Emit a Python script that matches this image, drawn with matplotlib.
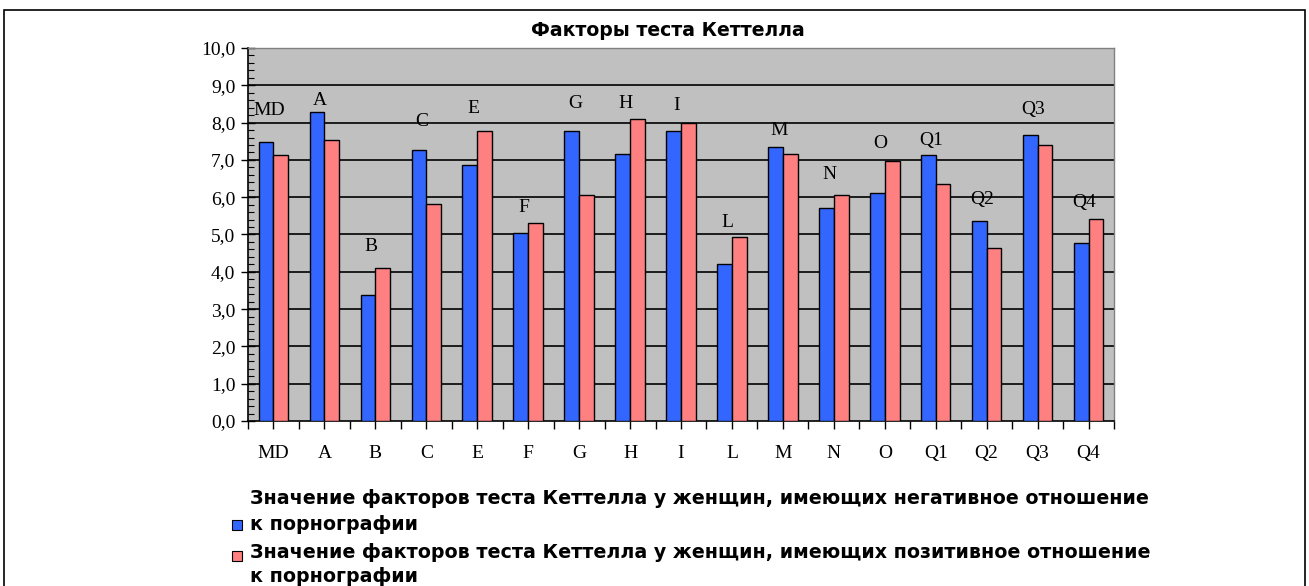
import matplotlib
matplotlib.use("Agg")
import matplotlib.pyplot as plt
import numpy as np
from matplotlib.patches import Rectangle
from matplotlib.ticker import MultipleLocator, FixedLocator

categories = ["MD", "A", "B", "C", "E", "F", "G", "H", "I", "L", "M", "N", "O", "Q1", "Q2", "Q3", "Q4"]
negative = [7.48, 8.29, 3.38, 7.27, 6.87, 5.05, 7.78, 7.15, 7.78, 4.21, 7.34, 5.70, 6.10, 7.12, 5.37, 7.66, 4.76]
positive = [7.12, 7.53, 4.10, 5.82, 7.78, 5.31, 6.07, 8.10, 7.99, 4.94, 7.15, 6.07, 6.97, 6.36, 4.65, 7.41, 5.41]
label_y = [8.32, 8.59, 4.67, 8.03, 8.37, 5.72, 8.50, 8.52, 8.45, 5.33, 7.79, 6.60, 7.43, 7.51, 5.94, 8.35, 5.85]
title = "Факторы теста Кеттелла"
legend_lines = [
    ["Значение факторов теста Кеттелла у женщин, имеющих негативное отношение", "к порнографии"],
    ["Значение факторов теста Кеттелла у женщин, имеющих позитивное отношение", "к порнографии"],
]
yticklabels = ["0,0", "1,0", "2,0", "3,0", "4,0", "5,0", "6,0", "7,0", "8,0", "9,0", "10,0"]

BLUE = "#3366FF"
RED = "#FF8080"
W, H = 1309, 586
fig = plt.figure(figsize=(W / 100, H / 100), dpi=100)

# outer frame
fig.patches.append(Rectangle((4 / W, -0.1), 1301 / W, 1.1 - 10 / H, transform=fig.transFigure,
                             fill=False, edgecolor="black", linewidth=1.2))

ax = fig.add_axes([248 / W, 1 - 421 / H, (1114 - 248) / W, (421 - 48) / H])
ax.set_facecolor("#C0C0C0")
x = np.arange(len(categories))
bw = 0.29
ax.bar(x - bw / 2, negative, bw, color=BLUE, edgecolor="black", linewidth=1.0, zorder=3)
ax.bar(x + bw / 2, positive, bw, color=RED, edgecolor="black", linewidth=1.0, zorder=3)
ax.set_xlim(-0.5, len(categories) - 0.5)
ax.set_ylim(0, 10)

for v in range(1, 10):
    ax.axhline(v, color="black", linewidth=1.2, zorder=1)

serif = "Liberation Serif"
for i, (c, ly) in enumerate(zip(categories, label_y)):
    ax.text(i - 0.08, ly, c, ha="center", va="center", fontsize=14, family=serif, zorder=4)

ax.set_yticks(np.arange(0, 11, 1))
ax.set_yticklabels(yticklabels, family=serif, fontsize=14)
ax.yaxis.set_minor_locator(MultipleLocator(0.2))
ax.tick_params(axis="y", which="major", direction="inout", length=10, width=1.0, pad=4)
ax.tick_params(axis="y", which="minor", direction="in", length=4, width=0.8)

ax.set_xticks(x)
ax.set_xticklabels(categories, family=serif, fontsize=14)
ax.xaxis.set_minor_locator(FixedLocator(np.arange(-0.5, len(categories), 1)))
ax.tick_params(axis="x", which="major", direction="out", length=6, width=1.0, pad=11)
ax.tick_params(axis="x", which="minor", direction="out", length=6, width=1.0)

for side in ["left", "bottom"]:
    ax.spines[side].set_color("black")
    ax.spines[side].set_linewidth(1.2)
for side in ["top", "right"]:
    ax.spines[side].set_color("#808080")
    ax.spines[side].set_linewidth(1.0)

sans = "DejaVu Sans"
fig.text(668 / W, 1 - 30 / H, title, ha="center", va="center", fontsize=13.6,
         fontweight="bold", family=sans)

line_y = [498, 525, 552, 577]
k = 0
for colr, lines in zip([BLUE, RED], legend_lines):
    for ln in lines:
        fig.text(250 / W, 1 - line_y[k] / H, ln, ha="left", va="center", fontsize=13.7,
                 fontweight="bold", family=sans)
        k += 1
    sq_y = line_y[k - 1] if colr == BLUE else line_y[k - 2] + 4
    fig.patches.append(Rectangle((232 / W, 1 - (sq_y + 5) / H), 10 / W, 10 / H,
                                 transform=fig.transFigure, facecolor=colr,
                                 edgecolor="black", linewidth=0.8))

fig.savefig("out.png", dpi=100)
